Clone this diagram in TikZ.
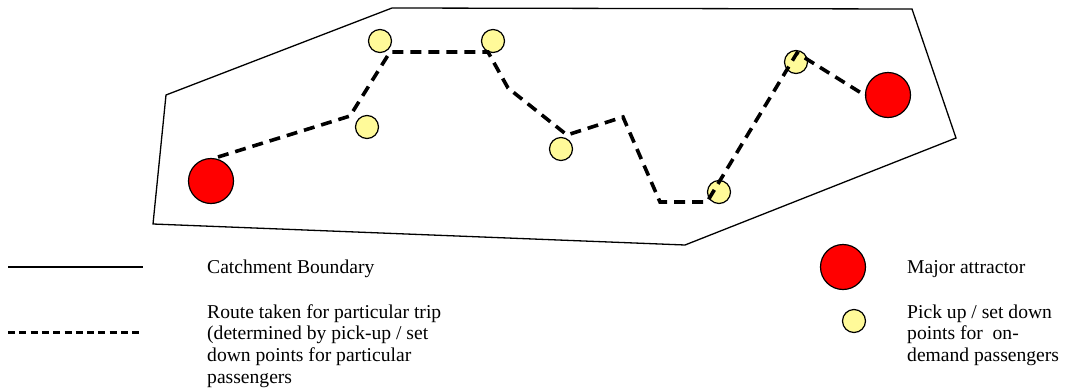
\documentclass[tikz,border=0pt]{standalone}
\usepackage{fontspec}
\setmainfont{Liberation Serif}
\begin{document}
\begin{tikzpicture}[x=1pt,y=-1pt,
  boundary/.style={line width=1.3pt,line join=miter},
  route/.style={line width=3.6pt,dash pattern=on 11pt off 7pt},
  attractor/.style={circle,draw,line width=1.2pt,fill=red,minimum size=45pt,inner sep=0pt},
  stop/.style={circle,draw,line width=1.2pt,fill=yellow!40,minimum size=23pt,inner sep=0pt},
  legtext/.style={anchor=base west,inner sep=0pt,align=left,font=\fontsize{19.6}{21.8}\selectfont}]
\useasboundingbox (0,0) rectangle (1066,389);
% catchment boundary
\draw[boundary] (392,8) -- (912,9) -- (956,138) -- (685,245) -- (153,224) -- (166,95) -- cycle;
% attractors and stops
\node[attractor] (A1) at (211,181) {};
\node[attractor] (A2) at (888,95) {};
\node[stop] (S1) at (380,41) {};
\node[stop] (S2) at (493,41) {};
\node[stop] (S3) at (367,127) {};
\node[stop] (S4) at (561,149) {};
\node[stop] (S5) at (719,192) {};
\node[stop] (S6) at (796,62) {};
% route vertices
\coordinate (r1) at (218,157);
\coordinate (r2) at (350,116);
\coordinate (r3) at (390,52);
\coordinate (r4) at (488,52);
\coordinate (r5) at (508,88);
\coordinate (r6) at (567,135);
\coordinate (r7) at (623,117);
\coordinate (r8) at (660,202);
\coordinate (r9) at (707,202);
\coordinate (r10) at (797,53);
\coordinate (r11) at (866,96);
\draw[route] (r1) -- (r2) -- (r3) -- (r4) -- (r5) -- (r6) -- (r7) -- (r8) -- (r9) -- (r10) -- (r11);
% legend
\coordinate (l1a) at (8,267);
\coordinate (l1b) at (143,267);
\draw[boundary] (l1a) -- (l1b);
\coordinate (l2a) at (8,332);
\coordinate (l2b) at (143,332);
\draw[line width=3pt,dash pattern=on 7pt off 4.3pt] (l2a) -- (l2b);
% last-line baselines (base anchor of a multi-line node is its last line)
\node[legtext] (t1) at (207,273) {Catchment Boundary};
\node[legtext] (t2) at (207,383.4) {Route taken for particular trip\\(determined by pick-up / set\\down points for particular\\passengers};
\node[attractor] (LA) at (843,267) {};
\node[stop] (LS) at (854,321) {};
\node[legtext] (t3) at (907,273) {Major attractor};
\node[legtext] (t4) at (907,361.6) {Pick up / set down\\points for\ \ on-\\demand passengers};
\end{tikzpicture}
\end{document}
